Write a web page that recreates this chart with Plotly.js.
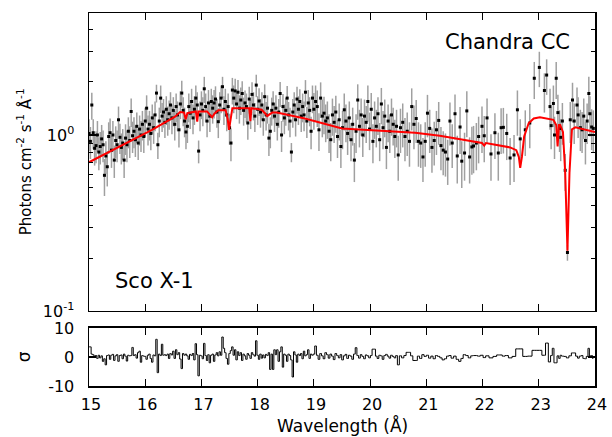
<!DOCTYPE html>
<html><head><meta charset="utf-8">
<script src="https://cdn.plot.ly/plotly-3.0.1.min.js"></script>
<style>html,body{margin:0;padding:0;background:#fff}#chart{width:612px;height:437px}</style>
</head><body><div id="chart"></div>
<script>
// ---- spectrum data (wavelength in Å, flux in photons cm^-2 s^-1 Å^-1) ----
const waveA = [
15.000,15.025,15.050,15.075,15.100,15.125,15.150,15.175,
15.200,15.225,15.250,15.275,15.300,15.325,15.350,15.375,
15.400,15.425,15.450,15.475,15.500,15.525,15.550,15.575,
15.600,15.625,15.650,15.675,15.700,15.725,15.750,15.775,
15.800,15.825,15.850,15.875,15.900,15.925,15.950,15.975,
16.000,16.025,16.050,16.075,16.100,16.125,16.150,16.175,
16.200,16.225,16.250,16.275,16.300,16.325,16.350,16.375,
16.400,16.425,16.450,16.475,16.500,16.525,16.550,16.575,
16.600,16.625,16.650,16.675,16.700,16.725,16.750,16.775,
16.800,16.825,16.850,16.875,16.900,16.925,16.950,16.975,
17.000,17.025,17.050,17.075,17.100,17.125,17.150,17.175,
17.200,17.225,17.250,17.275,17.300,17.325,17.350,17.375,
17.400,17.425,17.450,17.475,17.500,17.525,17.550,17.575,
17.600,17.625,17.650,17.675,17.700,17.725,17.750,17.775,
17.800,17.825,17.850,17.875,17.900,17.925,17.950,17.975,
18.000,18.025,18.050,18.075,18.100,18.125,18.150,18.175,
18.200,18.225,18.250,18.275,18.300,18.325,18.350,18.375,
18.400,18.425,18.450,18.475,18.500,18.525,18.550,18.575,
18.600,18.625,18.650,18.675,18.700,18.725,18.750,18.775,
18.800,18.825,18.850,18.875,18.900,18.925,18.950,18.975];
const fluxA = [
1.02,0.92,1.48,1.03,0.84,0.87,1.00,0.80,
0.86,0.95,0.88,0.59,0.76,0.66,0.98,1.03,
0.82,1.00,0.72,0.93,0.88,1.22,0.97,0.85,
0.90,0.72,0.96,0.88,1.05,0.93,1.36,0.99,
1.05,0.94,1.12,0.90,1.08,1.00,1.15,0.98,
1.20,1.42,1.08,1.15,1.02,1.25,1.10,1.30,
1.73,0.88,1.20,1.62,1.28,1.35,1.18,1.40,
1.22,1.32,1.48,1.25,1.38,1.15,1.45,1.30,
1.07,1.50,1.73,1.38,1.20,1.04,1.12,1.45,
1.33,1.55,1.25,1.40,1.62,1.48,0.81,1.30,
1.50,1.38,1.83,1.45,1.20,1.52,1.28,1.55,
1.42,1.52,1.60,1.35,1.19,1.48,1.62,1.88,
1.40,1.55,1.30,1.45,1.10,0.90,1.80,1.62,
1.78,1.50,1.75,1.42,1.58,1.72,1.38,1.52,
1.45,1.17,1.60,1.33,1.70,1.48,1.28,1.92,
1.40,1.56,1.35,1.48,1.22,1.65,1.30,1.42,
0.96,1.05,1.38,1.50,1.28,1.42,1.15,1.35,
1.72,1.00,1.45,1.25,1.38,1.62,1.30,1.20,
0.80,1.35,1.48,1.22,1.60,1.40,1.55,1.28,
1.45,1.30,1.75,1.20,1.52,1.38,1.05,1.62];
const errA = [
0.21,0.19,0.26,0.20,0.17,0.18,0.20,0.17,
0.18,0.19,0.18,0.14,0.16,0.15,0.20,0.21,
0.17,0.20,0.15,0.19,0.18,0.23,0.19,0.17,
0.18,0.15,0.19,0.18,0.21,0.19,0.25,0.20,
0.21,0.19,0.22,0.18,0.21,0.20,0.22,0.19,
0.23,0.26,0.21,0.22,0.20,0.24,0.21,0.25,
0.20,0.15,0.23,0.29,0.24,0.25,0.22,0.26,
0.23,0.25,0.27,0.24,0.26,0.22,0.27,0.25,
0.22,0.27,0.30,0.26,0.23,0.21,0.22,0.27,
0.25,0.28,0.24,0.26,0.29,0.27,0.12,0.25,
0.27,0.26,0.31,0.27,0.23,0.28,0.24,0.28,
0.26,0.28,0.29,0.25,0.23,0.27,0.29,0.26,
0.26,0.28,0.25,0.27,0.22,0.19,0.31,0.29,
0.31,0.27,0.30,0.26,0.28,0.30,0.25,0.27,
0.27,0.23,0.28,0.25,0.29,0.27,0.24,0.28,
0.26,0.28,0.25,0.27,0.23,0.29,0.24,0.26,
0.20,0.21,0.25,0.27,0.24,0.26,0.22,0.25,
0.28,0.20,0.26,0.24,0.25,0.28,0.24,0.23,
0.10,0.25,0.27,0.24,0.28,0.26,0.27,0.24,
0.27,0.25,0.30,0.24,0.28,0.26,0.22,0.29];
const residA = [
3.5,3.5,1.0,0.8,0.3,0.5,-0.5,0.6,
-0.3,0.4,-1.5,-0.6,-2.7,0.5,0.7,-0.8,
0.6,0.9,-1.2,0.4,0.8,-1.5,0.5,0.7,
-0.6,1.0,0.3,-1.4,0.6,0.4,0.5,3.3,
0.5,0.8,-0.4,1.5,2.0,-1.8,0.5,0.3,
0.2,-0.8,0.6,1.0,-0.5,-1.8,0.7,0.4,
6.1,-5.4,1.0,0.5,4.4,0.6,0.8,0.5,
1.0,-0.5,1.2,0.7,2.0,-0.5,2.5,0.8,
1.5,-0.7,-4.0,1.2,0.6,1.0,0.4,-0.8,
0.9,0.5,1.2,-1.0,4.6,0.8,-6.5,0.6,
0.4,-0.6,4.7,0.5,-1.2,0.8,-2.0,0.6,
1.0,-1.5,0.7,1.5,0.4,1.8,0.6,6.9,
3.0,1.5,-0.5,-2.5,1.2,2.2,3.5,0.6,
2.5,-1.0,1.8,0.5,1.5,-1.2,1.0,0.4,
-0.8,1.2,0.6,-0.5,1.5,0.8,0.3,5.6,
0.6,-0.8,1.0,-0.4,0.7,-0.3,0.9,0.5,
1.5,-4.3,1.0,-4.3,2.5,0.8,2.5,-1.5,
1.8,3.5,-3.5,1.0,0.6,-1.5,1.0,0.5,
-1.0,-6.9,1.8,0.7,-1.8,1.0,0.5,1.2,
-0.6,2.0,0.4,0.8,2.5,-0.5,1.0,0.6];

const waveB = [
19.00,19.03,19.06,19.09,19.12,19.15,19.18,19.21,
19.24,19.27,19.30,19.33,19.36,19.39,19.42,19.45,
19.48,19.51,19.54,19.57,19.60,19.63,19.66,19.69,
19.72,19.75,19.78,19.81,19.84,19.87,19.90,19.93,
19.96,19.99,20.02,20.05,20.08,20.11,20.14,20.17,
20.20,20.23,20.26,20.29,20.32,20.35,20.38,20.41,
20.44,20.47];
const fluxB = [
1.40,1.55,1.45,1.07,1.62,1.28,1.33,1.20,
1.25,1.05,0.94,1.30,1.18,1.35,0.98,1.22,
0.86,1.10,1.39,1.20,1.02,1.25,0.94,1.15,
0.72,1.05,1.58,1.12,1.30,1.00,1.28,1.18,
1.55,1.08,1.40,0.92,1.25,1.12,1.32,0.94,
1.50,1.10,1.28,0.85,1.20,1.05,1.30,1.15,
0.98,1.12];
const errB = [
0.33,0.36,0.34,0.26,0.37,0.31,0.32,0.29,
0.30,0.26,0.23,0.31,0.28,0.32,0.24,0.29,
0.21,0.27,0.33,0.29,0.25,0.30,0.23,0.28,
0.18,0.26,0.36,0.27,0.31,0.25,0.31,0.28,
0.36,0.26,0.33,0.23,0.30,0.27,0.32,0.23,
0.35,0.27,0.31,0.21,0.29,0.26,0.31,0.28,
0.24,0.27];
const residB = [
1.0,3.8,0.6,-0.8,1.2,0.4,-0.6,1.5,
0.8,-0.4,1.0,0.3,-0.9,1.2,0.5,-0.3,
0.8,-1.0,0.4,0.9,-0.5,0.6,0.3,-0.8,
1.0,3.2,0.5,-0.4,0.8,0.2,-0.6,0.7,
0.4,-0.3,0.5,2.7,2.7,0.3,-0.5,0.6,
0.4,-0.8,0.5,0.9,0.3,-0.4,0.6,0.2,
-0.3,0.5];

const waveC = [20.50,20.54,20.58,20.62,20.66,20.70,20.74,20.78,20.82,20.86,20.90,20.94,20.98,
21.02,21.06,21.10,21.14,21.18,21.22,21.26,21.30,21.34,21.38,21.42,21.46];
const fluxC = [0.77,1.10,1.18,0.98,1.05,0.92,1.45,1.15,1.24,0.92,0.90,0.75,0.92,
1.33,1.09,0.85,0.93,1.07,1.21,0.87,0.82,0.80,0.73,1.20,0.90];
const errC = [0.22,0.31,0.33,0.27,0.29,0.26,0.39,0.32,0.34,0.26,0.25,0.21,0.26,
0.36,0.30,0.24,0.26,0.30,0.33,0.24,0.23,0.22,0.21,0.33,0.25];
const residC = [-2.7,0.4,-0.3,0.5,1.6,1.6,0.4,-1.2,-1.2,0.3,-0.5,0.8,0.2,
0.6,-0.4,0.3,-0.6,0.5,0.2,-0.3,-1.0,-0.6,0.3,0.5,-0.4];

const waveD = [21.51,21.55,21.60,21.63,21.68,21.72,21.77,21.81,21.84,21.89,21.93,21.99,
22.03,22.08,22.15,22.22,22.28,22.33,22.37,22.43,22.49,22.56,22.62,22.67,22.76,22.84,
22.92,23.01,23.10,23.14,23.20,23.22,23.26,23.28,23.31,23.34,23.37,23.39,23.42,23.47,
23.51,23.56,23.60,23.63,23.68,23.70,23.74,23.77,23.80,23.83,23.86,23.89,23.91,23.94,23.97];
const fluxD = [1.32,0.76,1.11,0.71,0.79,1.37,0.75,0.855,0.866,0.90,0.98,1.12,
0.99,1.25,0.78,1.03,0.79,1.10,1.105,1.02,0.74,0.77,1.39,0.95,1.07,1.17,
2.10,2.42,1.79,2.19,1.45,1.13,1.51,1.00,2.10,1.34,1.09,0.97,1.20,0.63,
0.215,1.22,1.58,1.20,1.48,1.30,1.10,1.07,1.28,0.93,1.20,1.72,1.32,1.11,1.09];
const errD = [0.38,0.23,0.33,0.21,0.24,0.40,0.22,0.26,0.26,0.27,0.29,0.33,
0.29,0.36,0.23,0.30,0.24,0.32,0.32,0.30,0.22,0.23,0.40,0.28,0.31,0.33,
0.50,0.55,0.45,0.50,0.38,0.30,0.40,0.27,0.50,0.35,0.29,0.26,0.32,0.15,
0.022,0.32,0.40,0.31,0.38,0.34,0.29,0.28,0.33,0.25,0.31,0.42,0.34,0.29,0.29];
const residD = [0.3,-0.8,-1.5,-0.5,0.8,0.5,-0.3,0.4,0.5,0.5,0.3,0.6,
-0.2,0.4,-0.3,0.2,0.7,0.7,0.3,0.5,-0.3,0.2,2.8,2.8,0.2,0.3,
2.3,2.3,0.6,4.8,-1.7,0.5,3.0,-2.0,-2.0,0.4,-0.5,0.6,0.3,0.2,
-0.3,0.4,1.4,1.4,0.3,-0.4,0.3,0.5,-0.5,-0.6,0.2,3.0,0.3,0.5,-0.5];

// ---- model curve ----
const modelWave = [15.0,15.52,16.12,16.53,16.62,16.69,16.72,16.75,16.90,16.925,16.945,17.10,17.15,17.19,17.23,
17.30,17.43,17.465,17.49,17.515,17.55,17.85,17.87,17.89,18.07,18.13,18.17,18.21,18.26,18.34,18.84,
19.50,20.80,21.24,21.99,22.03,22.06,22.49,22.60,22.645,22.67,22.70,22.74,22.82,22.91,23.02,23.26,
23.31,23.335,23.36,23.38,23.43,23.47,23.51,23.546,23.59,23.65,24.0];
const modelFlux = [0.70,0.85,1.07,1.27,1.35,1.34,1.23,1.33,1.36,1.19,1.36,1.36,1.31,1.26,1.32,
1.38,1.38,1.24,1.07,1.24,1.42,1.42,1.20,1.42,1.39,1.33,1.28,1.31,1.34,1.34,1.24,
1.09,1.03,0.99,0.90,0.87,0.90,0.85,0.82,0.75,0.65,0.75,0.98,1.165,1.24,1.26,1.22,
1.14,0.86,1.14,1.14,1.04,0.61,0.22,0.61,1.077,1.105,1.04];

// ---- axis ticks ----
const xTicks = [15,16,17,18,19,20,21,22,23,24];
const yTickVals = [0.1, 1];
const yTickText = ['10<sup>-1</sup>', '10<sup>0</sup>'];
const yMinorVals = [0.2,0.3,0.4,0.5,0.6,0.7,0.8,0.9,2,3,4];
const rTickVals = [-10, 0, 10];

const wave = [].concat(waveA, waveB, waveC, waveD);
const flux = [].concat(fluxA, fluxB, fluxC, fluxD);
const err = [].concat(errA, errB, errC, errD);
const resid = [].concat(residA, residB, residC, residD);

const FONT = 'DejaVu Sans, Verdana, sans-serif';

const traces = [
  {x: wave, y: flux, type: 'scatter', mode: 'markers', xaxis: 'x', yaxis: 'y',
   marker: {color: '#000', size: 3, symbol: 'square'},
   error_y: {type: 'data', array: err, visible: true, color: '#a0a0a0', thickness: 1.5, width: 0},
   hoverinfo: 'skip'},
  {x: modelWave, y: modelFlux, type: 'scatter', mode: 'lines', xaxis: 'x', yaxis: 'y',
   line: {color: '#ff0000', width: 2}},
  {x: wave, y: resid, type: 'scatter', mode: 'lines', xaxis: 'x2', yaxis: 'y2',
   line: {color: '#000', width: 1, shape: 'hvh'}}
];

const axCommon = {
  showline: true, linecolor: '#000', linewidth: 1.5, mirror: 'ticks',
  ticks: 'inside', ticklen: 7, tickwidth: 1.2, tickcolor: '#000',
  showgrid: false, zeroline: false,
  tickfont: {family: FONT, size: 16, color: '#000'}
};

const layout = {
  width: 612, height: 437,
  margin: {l: 89, r: 17, t: 13, b: 51},
  paper_bgcolor: '#fff', plot_bgcolor: '#fff',
  showlegend: false,
  font: {family: FONT, color: '#000'},
  xaxis: Object.assign({}, axCommon, {
    range: [15, 24], anchor: 'y', tickmode: 'array', tickvals: xTicks,
    showticklabels: false
  }),
  yaxis: Object.assign({}, axCommon, {
    type: 'log', range: [-1, 0.693], domain: [0.2011, 1], anchor: 'x',
    tickmode: 'array', tickvals: yTickVals, ticktext: yTickText,
    ticklabelstandoff: 10,
    minor: {tickmode: 'array', tickvals: yMinorVals, ticks: 'inside', ticklen: 4,
            tickwidth: 1, tickcolor: '#000', showgrid: false}
  }),
  xaxis2: Object.assign({}, axCommon, {
    range: [15, 24], anchor: 'y2', tickmode: 'array', tickvals: xTicks,
    ticklabelstandoff: 3, ticklabelshift: 2
  }),
  yaxis2: Object.assign({}, axCommon, {
    range: [-10, 10], domain: [0, 0.1555], anchor: 'x2',
    tickmode: 'array', tickvals: rTickVals, ticktext: ['-10', '0', '10'],
    ticklabelstandoff: 10
  }),
  annotations: [
    {text: 'Photons cm<sup>-2</sup> s<sup>-1</sup> Å<sup>-1</sup>', xref: 'paper', yref: 'paper',
     x: -0.128, y: 0.6005, xanchor: 'center', yanchor: 'middle', textangle: -90, showarrow: false,
     font: {family: FONT, size: 15, color: '#000'}},
    {text: 'σ', xref: 'paper', yref: 'paper', x: -0.128, y: 0.0777,
     xanchor: 'center', yanchor: 'middle', textangle: -90, showarrow: false,
     font: {family: FONT, size: 17, color: '#000'}},
    {text: 'Wavelength (Å)', xref: 'paper', yref: 'paper', x: 0.5, y: -0.107,
     xanchor: 'center', yanchor: 'middle', showarrow: false,
     font: {family: FONT, size: 17, color: '#000'}},
    {text: 'Chandra CC', xref: 'paper', yref: 'paper', x: 0.828, y: 0.922,
     xanchor: 'center', yanchor: 'middle', showarrow: false,
     font: {family: FONT, size: 21, color: '#000'}},
    {text: 'Sco X-1', xref: 'paper', yref: 'paper', x: 0.130, y: 0.2815,
     xanchor: 'center', yanchor: 'middle', showarrow: false,
     font: {family: FONT, size: 21, color: '#000'}}
  ]
};

Plotly.newPlot('chart', traces, layout, {displayModeBar: false, staticPlot: true});
</script></body></html>
